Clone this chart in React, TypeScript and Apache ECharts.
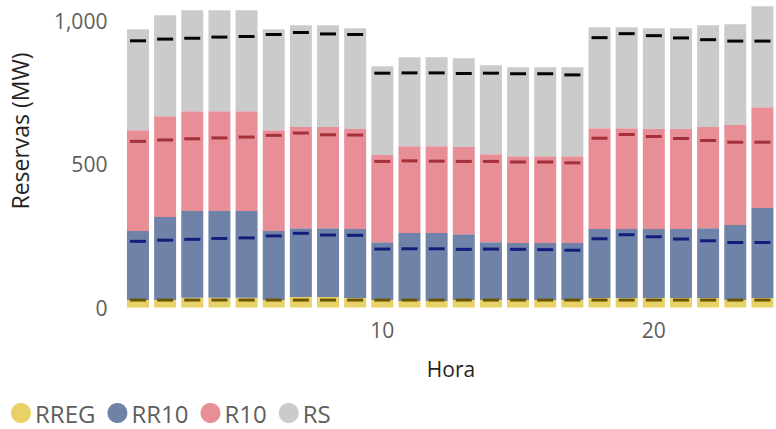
import React, { useEffect, useRef } from "react";
import * as echarts from "echarts";

const hours = ["1","2","3","4","5","6","7","8","9","10","11","12","13","14","15","16","17","18","19","20","21","22","23","24"];
const xTickLabels = ["10", "20"];
const yTickValues = [0, 500, 1000];

// stacked segment values (MW)
const RREG = [26,26,34,34,34,26,37,37,33,26,23,23,26,26,26,26,26,33,33,33,33,33,26,33];
const RR10 = [241,290,303,303,303,241,240,240,241,202,237,237,230,202,199,199,199,241,241,241,241,244,262,314];
const R10 = [352,352,348,348,348,352,353,353,349,304,303,303,304,307,303,303,303,352,352,349,349,353,349,352];
const RS = [352,352,353,353,353,352,355,355,352,310,311,311,310,311,311,311,311,352,352,352,352,355,352,353];

// requirement markers (cumulative level, MW)
const reqRREG = [26,26,26,26,26,26,26,26,26,26,26,26,26,26,26,26,26,26,26,26,26,26,26,26];
const reqRR10 = [231,235,238,241,243,250,259,253,252,204,205,205,203,204,203,202,200,240,254,247,239,233,227,227];
const reqR10 = [580,585,589,592,595,601,609,603,602,510,512,511,510,510,508,508,505,591,604,597,590,583,577,577];
const reqRS = [931,937,940,944,946,953,960,955,953,818,819,819,817,818,816,816,812,942,956,949,941,935,930,930];

const seriesNames = ["RREG", "RR10", "R10", "RS"];
const colors = ["#E8D166", "#6F82A8", "#E78E96", "#CBCBCB"];
const markerColors = ["#6B5600", "#141E7A", "#A4303A", "#050505"];

const FONT = "'Segoe UI', 'Open Sans', sans-serif";

export default function App() {
  const ref = useRef<HTMLDivElement>(null);
  useEffect(() => {
    document.body.style.margin = "0";
    if (!ref.current) return;
    const chart = echarts.init(ref.current, undefined, { renderer: "svg" });
    const segs = [RREG, RR10, R10, RS];
    const reqs = [reqRREG, reqRR10, reqR10, reqRS];
    const barSeries = segs.map((d, i) => ({
      name: seriesNames[i],
      type: "bar",
      stack: "total",
      data: d,
      barCategoryGap: "19%",
      itemStyle: { color: colors[i] },
      emphasis: { disabled: true },
    }));
    const markerSeries = reqs.map((d, i) => ({
      name: "req" + seriesNames[i],
      type: "scatter",
      data: d,
      symbol: "rect",
      symbolSize: [16, 3],
      itemStyle: { color: markerColors[i], opacity: 1 },
      z: 5,
      emphasis: { disabled: true },
    }));
    chart.setOption({
      animation: false,
      textStyle: { fontFamily: FONT },
      grid: { left: 124.4, width: 655.5, top: 1, height: 306.5 },
      legend: {
        data: seriesNames,
        left: 11,
        top: 401,
        padding: 0,
        icon: "circle",
        itemWidth: 20,
        itemHeight: 20,
        itemGap: 12,
        textStyle: { fontSize: 24, color: "#605E5C", fontFamily: FONT, padding: [0, 0, 0, -1] },
      },
      xAxis: {
        type: "category",
        data: hours,
        axisLine: { show: false },
        axisTick: { show: false },
        axisLabel: {
          interval: (_idx: number, val: string) => xTickLabels.includes(val),
          fontSize: 21,
          color: "#605E5C",
          margin: 12,
          fontFamily: FONT,
        },
      },
      yAxis: {
        type: "value",
        min: 0,
        max: 1070,
        interval: 500,
        splitLine: { show: false },
        axisLine: { show: false },
        axisTick: { show: false },
        axisLabel: {
          fontSize: 21,
          color: "#605E5C",
          margin: 17,
          fontFamily: FONT,
          formatter: (v: number) => (yTickValues.includes(v) ? v.toLocaleString("en-US") : ""),
        },
      },
      graphic: [
        {
          type: "text",
          x: 451,
          y: 369,
          style: { text: "Hora", fontSize: 21, fill: "#252423", fontFamily: FONT, align: "center", verticalAlign: "middle" },
        },
        {
          type: "text",
          x: 20,
          y: 131,
          rotation: Math.PI / 2,
          style: { text: "Reservas (MW)", fontSize: 23, fill: "#252423", fontFamily: FONT, align: "center", verticalAlign: "middle" },
        },
      ],
      series: [...barSeries, ...markerSeries],
    });
    return () => chart.dispose();
  }, []);
  return <div ref={ref} style={{ width: 776, height: 429 }} />;
}
